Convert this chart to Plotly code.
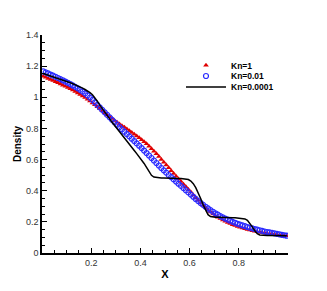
import plotly.graph_objects as go

# Cell centres
x = [round(0.005 + 0.01 * i, 3) for i in range(100)]

# Kn=1 (red triangles)
rho_kn1 = [
    1.135, 1.128, 1.121, 1.114, 1.107, 1.100, 1.093, 1.086, 1.078, 1.071,
    1.063, 1.055, 1.046, 1.037, 1.028, 1.018, 1.008, 0.998, 0.987, 0.976,
    0.964, 0.952, 0.939, 0.926, 0.913, 0.900, 0.887, 0.875, 0.863, 0.851,
    0.840, 0.829, 0.818, 0.807, 0.796, 0.785, 0.774, 0.763, 0.752, 0.740,
    0.728, 0.715, 0.701, 0.686, 0.670, 0.654, 0.637, 0.619, 0.601, 0.583,
    0.565, 0.547, 0.529, 0.511, 0.493, 0.476, 0.459, 0.442, 0.425, 0.408,
    0.391, 0.373, 0.355, 0.338, 0.321, 0.305, 0.290, 0.276, 0.263, 0.251,
    0.240, 0.230, 0.221, 0.212, 0.204, 0.196, 0.189, 0.182, 0.176, 0.170,
    0.165, 0.160, 0.155, 0.151, 0.147, 0.143, 0.140, 0.137, 0.134, 0.131,
    0.128, 0.126, 0.124, 0.122, 0.120, 0.118, 0.116, 0.114, 0.112, 0.110,
]

# Kn=0.01 (blue open circles)
rho_kn001 = [
    1.167, 1.160, 1.153, 1.146, 1.139, 1.132, 1.124, 1.117, 1.109, 1.101,
    1.093, 1.085, 1.076, 1.067, 1.058, 1.048, 1.037, 1.025, 1.012, 0.998,
    0.983, 0.967, 0.951, 0.935, 0.919, 0.903, 0.887, 0.871, 0.855, 0.839,
    0.824, 0.809, 0.794, 0.779, 0.764, 0.749, 0.734, 0.719, 0.704, 0.689,
    0.674, 0.658, 0.642, 0.626, 0.610, 0.594, 0.578, 0.562, 0.546, 0.531,
    0.516, 0.501, 0.487, 0.473, 0.459, 0.445, 0.431, 0.417, 0.403, 0.389,
    0.375, 0.361, 0.347, 0.334, 0.321, 0.309, 0.297, 0.286, 0.275, 0.265,
    0.255, 0.246, 0.237, 0.229, 0.221, 0.214, 0.207, 0.200, 0.194, 0.188,
    0.182, 0.177, 0.172, 0.167, 0.162, 0.158, 0.154, 0.150, 0.146, 0.142,
    0.138, 0.135, 0.132, 0.129, 0.126, 0.123, 0.120, 0.117, 0.114, 0.111,
]

# Kn=0.0001 (black line)
rho_kn00001 = [
    1.153, 1.148, 1.142, 1.137, 1.132, 1.126, 1.121, 1.115, 1.110, 1.105,
    1.099, 1.093, 1.087, 1.081, 1.074, 1.067, 1.059, 1.050, 1.041, 1.030,
    1.016, 0.998, 0.975, 0.950, 0.926, 0.904, 0.882, 0.861, 0.840, 0.819,
    0.798, 0.778, 0.757, 0.737, 0.717, 0.697, 0.677, 0.658, 0.638, 0.618,
    0.597, 0.575, 0.550, 0.522, 0.499, 0.488, 0.484, 0.482, 0.481, 0.481,
    0.480, 0.480, 0.480, 0.480, 0.480, 0.479, 0.479, 0.478, 0.476, 0.472,
    0.462, 0.445, 0.420, 0.388, 0.350, 0.310, 0.272, 0.246, 0.234, 0.230,
    0.229, 0.229, 0.228, 0.228, 0.228, 0.228, 0.227, 0.227, 0.227, 0.226,
    0.225, 0.223, 0.219, 0.210, 0.192, 0.168, 0.143, 0.124, 0.116, 0.114,
    0.113, 0.113, 0.113, 0.112, 0.112, 0.112, 0.111, 0.111, 0.110, 0.110,
]

x_tickvals = [0, 0.2, 0.4, 0.6, 0.8, 1.0]
x_ticktext = ["", "0.2", "0.4", "0.6", "0.8", ""]

fig = go.Figure()
fig.add_trace(go.Scatter(
    x=x, y=rho_kn1, mode="markers", name="Kn=1", legend="legend",
    marker=dict(symbol="triangle-up", size=5, color="#e00000", line=dict(width=0)),
))
fig.add_trace(go.Scatter(
    x=x, y=rho_kn001, mode="markers", name="Kn=0.01", legend="legend2",
    marker=dict(symbol="circle-open", size=5, color="#2a2aff", line=dict(width=1.2, color="#2a2aff")),
))
fig.add_trace(go.Scatter(
    x=x, y=rho_kn00001, mode="lines", name="Kn=0.0001", legend="legend3",
    line=dict(color="black", width=1.5),
))

legend_font = dict(family="Liberation Sans, Arial, sans-serif", size=8.5, color="black", weight="bold")


def leg(yc):
    return dict(
        x=0.565, y=yc, xanchor="left", yanchor="middle",
        bgcolor="rgba(0,0,0,0)", borderwidth=0,
        font=legend_font, itemwidth=40,
    )


fig.update_layout(
    width=327, height=291,
    margin=dict(l=42, r=39, t=35, b=33),
    paper_bgcolor="white", plot_bgcolor="white",
    font=dict(family="Liberation Sans, Arial, sans-serif", size=9, color="#222"),
    showlegend=True,
    legend=leg(0.861),
    legend2=leg(0.812),
    legend3=leg(0.762),
    xaxis=dict(
        range=[0, 1], tickmode="array", tickvals=x_tickvals, ticktext=x_ticktext,
        showline=True, linecolor="black", linewidth=1.5, mirror=False,
        ticks="inside", ticklen=5, tickwidth=1, tickcolor="black",
        showgrid=False, zeroline=False,
        minor=dict(tickmode="linear", tick0=0, dtick=0.05, ticks="inside", ticklen=3, tickcolor="black", tickwidth=0.8),
        title=dict(text="X", font=dict(size=11, color="black", weight="bold"), standoff=4),
        tickfont=dict(size=9, color="#333"),
    ),
    yaxis=dict(
        range=[0, 1.4], tickmode="linear", tick0=0, dtick=0.2,
        showline=True, linecolor="black", linewidth=1.5, mirror=False,
        ticks="inside", ticklen=5, tickwidth=1, tickcolor="black",
        showgrid=False, zeroline=False,
        minor=dict(tickmode="linear", tick0=0, dtick=0.05, ticks="inside", ticklen=3, tickcolor="black", tickwidth=0.8),
        title=dict(text="Density", font=dict(size=10, color="black", weight="bold"), standoff=2),
        tickfont=dict(size=9, color="#333"),
    ),
)

fig.write_html("out.html", config={"displayModeBar": False},
               post_script="document.body.style.margin='0';")
